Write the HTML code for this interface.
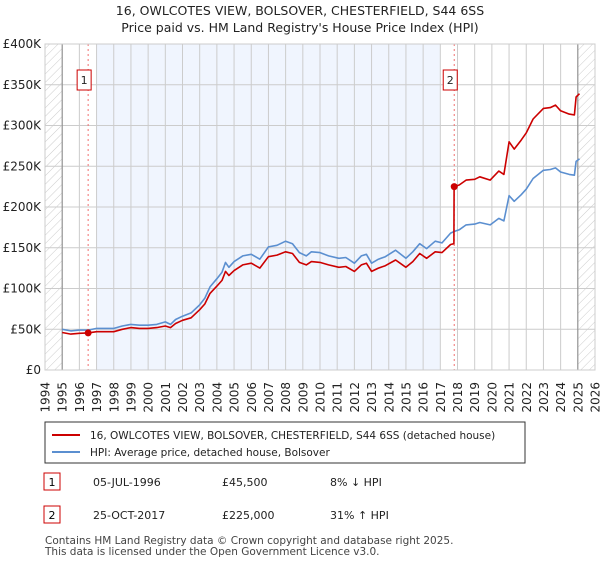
<!DOCTYPE html>
<html><head><meta charset="utf-8"><style>
body{margin:0;background:#fff;font-family:"Liberation Sans","DejaVu Sans",sans-serif;}
svg text{font-family:"DejaVu Sans","Liberation Sans",sans-serif;}
</style></head><body>
<svg id="c" width="600" height="560" xmlns="http://www.w3.org/2000/svg">
<defs><pattern id="hatch" width="6" height="6" patternUnits="userSpaceOnUse" patternTransform="rotate(45)"><line x1="0" y1="0" x2="0" y2="6" stroke="#ccc" stroke-width="1"/></pattern></defs>
<text x="300" y="15" text-anchor="middle" font-size="12.5" fill="#222">16, OWLCOTES VIEW, BOLSOVER, CHESTERFIELD, S44 6SS</text>
<text x="300" y="32" text-anchor="middle" font-size="12.5" fill="#222">Price paid vs. HM Land Registry's House Price Index (HPI)</text>
<g id="plot"></g>
<rect x="45" y="422" width="480" height="41" fill="#fff" stroke="#333"/>
<line x1="52" y1="435" x2="80" y2="435" stroke="#cc0000" stroke-width="2"/>
<text x="90" y="439" font-size="10.5" fill="#222">16, OWLCOTES VIEW, BOLSOVER, CHESTERFIELD, S44 6SS (detached house)</text>
<line x1="52" y1="452" x2="80" y2="452" stroke="#5b8fd0" stroke-width="2"/>
<text x="90" y="456" font-size="10.5" fill="#222">HPI: Average price, detached house, Bolsover</text>
<rect x="44" y="473" width="16" height="17" fill="#fff" stroke="#cc0000"/>
<text x="52" y="486" text-anchor="middle" font-size="11">1</text>
<text x="93" y="486" font-size="11" fill="#222">05-JUL-1996</text>
<text x="222" y="486" font-size="11" fill="#222">£45,500</text>
<text x="330" y="486" font-size="11" fill="#222">8% ↓ HPI</text>
<rect x="44" y="506" width="16" height="17" fill="#fff" stroke="#cc0000"/>
<text x="52" y="519" text-anchor="middle" font-size="11">2</text>
<text x="93" y="519" font-size="11" fill="#222">25-OCT-2017</text>
<text x="222" y="519" font-size="11" fill="#222">£225,000</text>
<text x="330" y="519" font-size="11" fill="#222">31% ↑ HPI</text>
<text x="45" y="544" font-size="10.5" fill="#444">Contains HM Land Registry data © Crown copyright and database right 2025.</text>
<text x="45" y="555" font-size="10.5" fill="#444">This data is licensed under the Open Government Licence v3.0.</text>
</svg>
<script>
const hpiYears=[1995,1995.5,1996,1996.5,1997,1997.5,1998,1998.5,1999,1999.5,2000,2000.5,2001,2001.3,2001.6,2002,2002.5,2003,2003.3,2003.6,2004,2004.3,2004.5,2004.7,2005,2005.5,2006,2006.5,2007,2007.5,2008,2008.4,2008.8,2009.2,2009.5,2010,2010.5,2011.1,2011.5,2012,2012.4,2012.7,2013,2013.4,2013.8,2014.4,2015,2015.4,2015.8,2016.2,2016.7,2017.1,2017.6,2017.8,2018.1,2018.5,2019,2019.3,2019.9,2020.4,2020.7,2021.0,2021.3,2021.7,2022,2022.4,2023,2023.4,2023.7,2024,2024.5,2024.8,2024.9,2025.1];
const hpiValues=[50,48,49,49,51,51,51,54,56,55,55,56,59,56,62,66,70,80,88,102,112,120,132,126,133,140,142,136,151,153,158,155,144,140,145,144,140,137,138,131,140,142,131,136,139,147,137,145,155,149,158,156,168,170,172,178,179,181,178,186,183,214,207,215,222,235,245,246,248,243,240,239,256,259];
const priceYears=[1995,1995.5,1996,1996.5,1997,1997.5,1998,1998.5,1999,1999.5,2000,2000.5,2001,2001.3,2001.6,2002,2002.5,2003,2003.3,2003.6,2004,2004.3,2004.5,2004.7,2005,2005.5,2006,2006.5,2007,2007.5,2008,2008.4,2008.8,2009.2,2009.5,2010,2010.5,2011.1,2011.5,2012,2012.4,2012.7,2013,2013.4,2013.8,2014.4,2015,2015.4,2015.8,2016.2,2016.7,2017.1,2017.6,2017.79,2017.8,2018.1,2018.5,2019,2019.3,2019.9,2020.4,2020.7,2021.0,2021.3,2021.7,2022,2022.4,2023,2023.4,2023.7,2024,2024.5,2024.8,2024.9,2025.1];
const priceValues=[46,44,45,45.5,47,47,47,50,52,51,51,52,54,52,57,61,64,74,81,94,103,110,121,116,122,129,131,125,139,141,145,143,132,129,133,132,129,126,127,121,129,131,121,125,128,135,126,133,143,137,145,144,154,155,225,227,233,234,237,233,244,240,280,271,282,291,308,321,322,325,318,314,313,335,339];
const saleYears=[1996.51,2017.81];
const saleValues=[45.5,225];
const saleLabels=["1","2"];
const yTicks=[0,50,100,150,200,250,300,350,400];
const yTickLabels=["£0","£50K","£100K","£150K","£200K","£250K","£300K","£350K","£400K"];
const xTicks=[1994,1995,1996,1997,1998,1999,2000,2001,2002,2003,2004,2005,2006,2007,2008,2009,2010,2011,2012,2013,2014,2015,2016,2017,2018,2019,2020,2021,2022,2023,2024,2025,2026];

const X0=45,X1=595,Y0=370,Y1=44;
function xs(y){return X0+(y-1994)/(32)*(X1-X0);}
function ys(v){return Y0-v/400*(Y0-Y1);}
const NS="http://www.w3.org/2000/svg";
const g=document.getElementById('plot');
function mk(t,a,p){const e=document.createElementNS(NS,t);for(const k in a)e.setAttribute(k,a[k]);(p||g).appendChild(e);return e;}

let e=mk('rect',{x:X0,y:Y1,width:X1-X0,height:Y0-Y1,fill:'#fff'});


e=mk('rect',{x:xs(1997),y:Y1,width:xs(2017)-xs(1997),height:Y0-Y1,fill:'#f0f5fe'});


e=mk('rect',{x:xs(1994),y:Y1,width:xs(1995)-xs(1994),height:Y0-Y1,fill:'url(#hatch)'});


e=mk('rect',{x:xs(2025),y:Y1,width:xs(2026)-xs(2025),height:Y0-Y1,fill:'url(#hatch)'});



yTicks.forEach((t,i)=>{
  let l=mk('line',{x1:X0,x2:X1,y1:ys(t),y2:ys(t),stroke:'#ccc','stroke-width':1});
  
  
  let tx=mk('text',{x:X0-4,y:ys(t)+4,'text-anchor':'end','font-size':'12',fill:'#222'});
  tx.textContent=yTickLabels[i];
  
  
});
xTicks.forEach(t=>{
  let l=mk('line',{x1:xs(t),x2:xs(t),y1:Y1,y2:Y0,stroke:'#ccc','stroke-width':1});
  
  
  const px=xs(t)+4.5, py=382;
  let tx=mk('text',{x:px,y:py,'text-anchor':'end','font-size':'12',fill:'#222',transform:'rotate(-90 '+px+' '+py+')'});
  tx.textContent=t;
  
  
});
e=mk('line',{x1:xs(1995),x2:xs(1995),y1:Y1,y2:Y0,stroke:'#888'});


e=mk('line',{x1:xs(2025),x2:xs(2025),y1:Y1,y2:Y0,stroke:'#888'});



saleYears.forEach((y,i)=>{
  let l=mk('line',{x1:xs(y),x2:xs(y),y1:Y1,y2:Y0,stroke:'#f07070','stroke-dasharray':'2,3'});
  
  
  let r=mk('rect',{x:xs(y)-11,y:70,width:14,height:20,fill:'#fff',stroke:'#cc0000'});
  
  
  let tx=mk('text',{x:xs(y)-4,y:84,'text-anchor':'middle','font-size':'11',fill:'#222'});
  tx.textContent=saleLabels[i];
  
  
});

function path(xa,va,col,name){
  const d=xa.map((y,i)=>(i?'L':'M')+xs(y).toFixed(1)+','+ys(va[i]).toFixed(1)).join('');
  const p=mk('path',{d:d,fill:'none',stroke:col,'stroke-width':1.6,'stroke-linejoin':'round'});
  
  
}
path(hpiYears,hpiValues,'#5b8fd0','hpi-line');
path(priceYears,priceValues,'#cc0000','price-line');
saleYears.forEach((y,i)=>{
  const c=mk('circle',{cx:xs(y),cy:ys(saleValues[i]),r:3.5,fill:'#cc0000'});
  
  
});
e=mk('rect',{x:X0,y:Y1,width:X1-X0,height:Y0-Y1,fill:'none',stroke:'#ccc'});


</script>
</body></html>
